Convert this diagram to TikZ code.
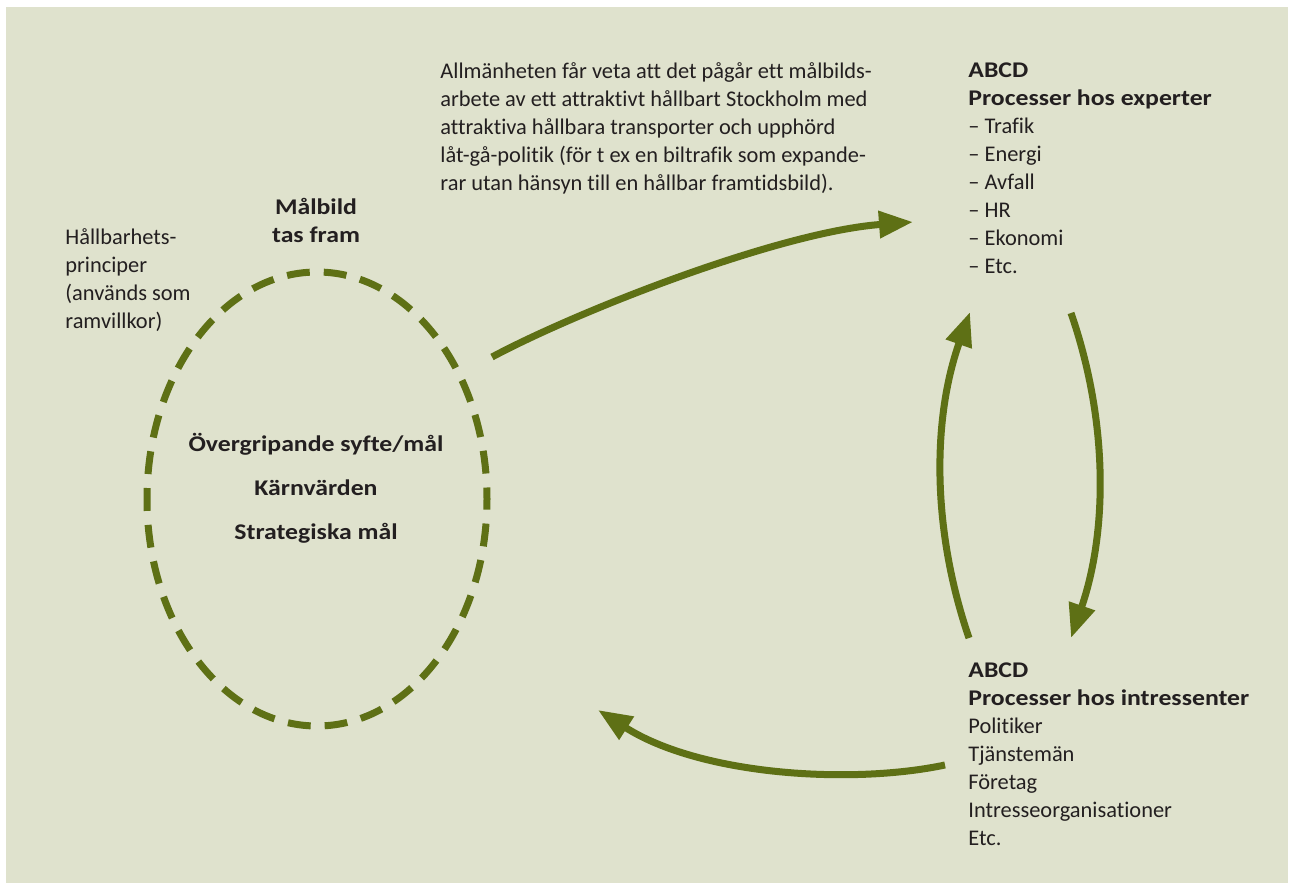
\documentclass[tikz,border=0pt]{standalone}
\usepackage{fontspec}
\setmainfont{Carlito}[Ligatures=NoCommon, BoldFeatures={FakeStretch=1.15}]
\usetikzlibrary{arrows.meta}
\usetikzlibrary{shapes.geometric}
\usetikzlibrary{positioning}
\definecolor{bakgrund}{HTML}{DFE2CD}
\definecolor{gron}{HTML}{5E7015}
\definecolor{textfarg}{HTML}{231F20}
\tikzset{
brodtext/.style={align=left, inner sep=0pt, text=textfarg, font=\fontsize{11.2}{14}\selectfont},
rubrik/.style={align=center, inner sep=0pt, text=textfarg, font=\bfseries\fontsize{11.2}{14}\selectfont},
pil/.style={draw=gron, line width=3.5pt, -{Triangle[length=17pt,width=13pt]}},
}
\begin{document}
\begin{tikzpicture}[x=0.5pt,y=-0.5pt]
    \useasboundingbox (0,0) rectangle (1291,883);
    \fill[bakgrund] (6,7) rectangle (1288,883);
    % malbilden
    \node[ellipse, draw=gron, line width=3.5pt, dash pattern=on 11.45pt off 7pt, dash phase=5.7pt,
        minimum width=170pt, minimum height=227pt] (malbild) at (317,499) {};
    \node[rubrik, anchor=north] (tasfram) at (316,198) {Målbild\\tas fram};
    \node[rubrik, anchor=north, font=\bfseries\fontsize{11.2}{22}\selectfont] (karna) at (316,433)
        {Övergripande syfte/mål\\Kärnvärden\\Strategiska mål};
    \node[brodtext, anchor=north west] (principer) at (65,228)
        {Hållbarhets-\\principer\\(används som\\ramvillkor)};
    \node[brodtext, anchor=north west] (allman) at (440,62)
        {Allmänheten får veta att det pågår ett målbilds-\\arbete av ett attraktivt hållbart Stockholm med\\attraktiva hållbara transporter och upphörd\\låt-gå-politik (för t ex en biltrafik som expande-\\rar utan hänsyn till en hållbar framtidsbild).};
    \node[brodtext, anchor=north west] (experter) at (968,62)
        {\textbf{ABCD}\\\textbf{Processer hos experter}\\– Trafik\\– Energi\\– Avfall\\– HR\\– Ekonomi\\– Etc.};
    \node[brodtext, anchor=north west] (intressenter) at (968,662)
        {\textbf{ABCD}\\\textbf{Processer hos intressenter}\\Politiker\\Tjänstemän\\Företag\\Intresseorganisationer\\Etc.};
    % pilarnas ändar
    \coordinate (malut) at (492,357);
    \coordinate (expin) at (913,222);
    \coordinate (expner) at (1071,313);
    \coordinate (intin) at (1071,638);
    \coordinate (intupp) at (969,638);
    \coordinate (expupp) at (970,312);
    \coordinate (intut) at (945,765);
    \coordinate (malin) at (598,710);
    \draw[pil] (malut) .. controls (580,310) and (780,232) .. (expin);
    \draw[pil] (expner) .. controls (1108,420) and (1108,530) .. (intin);
    \draw[pil] (intupp) .. controls (932,530) and (932,420) .. (expupp);
    \draw[pil] (intut) .. controls (850,785) and (700,775) .. (malin);
\end{tikzpicture}
\end{document}
